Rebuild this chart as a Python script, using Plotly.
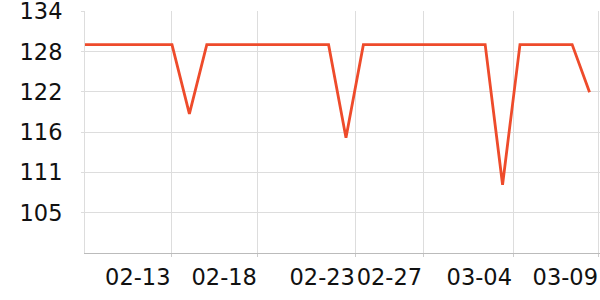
import pandas as pd
import plotly.graph_objects as go

dates = pd.date_range("2023-02-08", "2023-03-09", freq="D")
values = [129, 129, 129, 129, 129, 129, 119.1,
          129, 129, 129, 129, 129, 129, 129, 129, 115.7,
          129, 129, 129, 129, 129, 129, 129, 129, 109.0,
          129, 129, 129, 129, 122.2]

x_tick_text = ["02-13", "02-18", "02-23", "02-27", "03-04", "03-09"]
x_tick_offsets = [4.97, 9.94, 15.57, 19.43, 24.6, 29.54]
y_tick_vals = [105, 110.75, 116.5, 122.25, 128, 133.75]
y_tick_text = ["105", "111", "116", "122", "128", "134"]

start = dates[0]
x_tick_vals = [start + pd.Timedelta(days=d) for d in x_tick_offsets]
x_end = start + pd.Timedelta(days=29.6)

fig = go.Figure()
fig.add_trace(go.Scatter(
    x=dates, y=values, mode="lines",
    line=dict(color="#EE4B2B", width=2.8),
    hoverinfo="skip",
))

fig.update_layout(
    width=600, height=300,
    margin=dict(l=85, r=0, t=11, b=47, autoexpand=False),
    paper_bgcolor="white", plot_bgcolor="white",
    showlegend=False,
    font=dict(family="DejaVu Sans", size=22.5, color="#111111"),
)
fig.update_xaxes(
    range=[start, x_end],
    tickmode="array", tickvals=x_tick_vals, ticktext=x_tick_text,
    ticklabelposition="outside left",
    tickangle=0, automargin=False,
    ticks="outside", ticklen=3, tickcolor="#cccccc",
    showgrid=True, gridcolor="#dddddd", gridwidth=1,
    showline=True, linecolor="#bbbbbb", linewidth=1,
    zeroline=False,
    ticklabelstandoff=4,
    ticklabeloverflow="allow",
)
fig.update_yaxes(
    range=[99.25, 133.8],
    tickmode="array", tickvals=y_tick_vals, ticktext=y_tick_text,
    automargin=False,
    ticks="outside", ticklen=3, tickcolor="#dddddd",
    showgrid=True, gridcolor="#dddddd", gridwidth=1,
    showline=True, linecolor="#dddddd", linewidth=1,
    zeroline=False,
    ticklabelstandoff=14,
    ticklabeloverflow="allow",
)

fig.write_html("out.html")
